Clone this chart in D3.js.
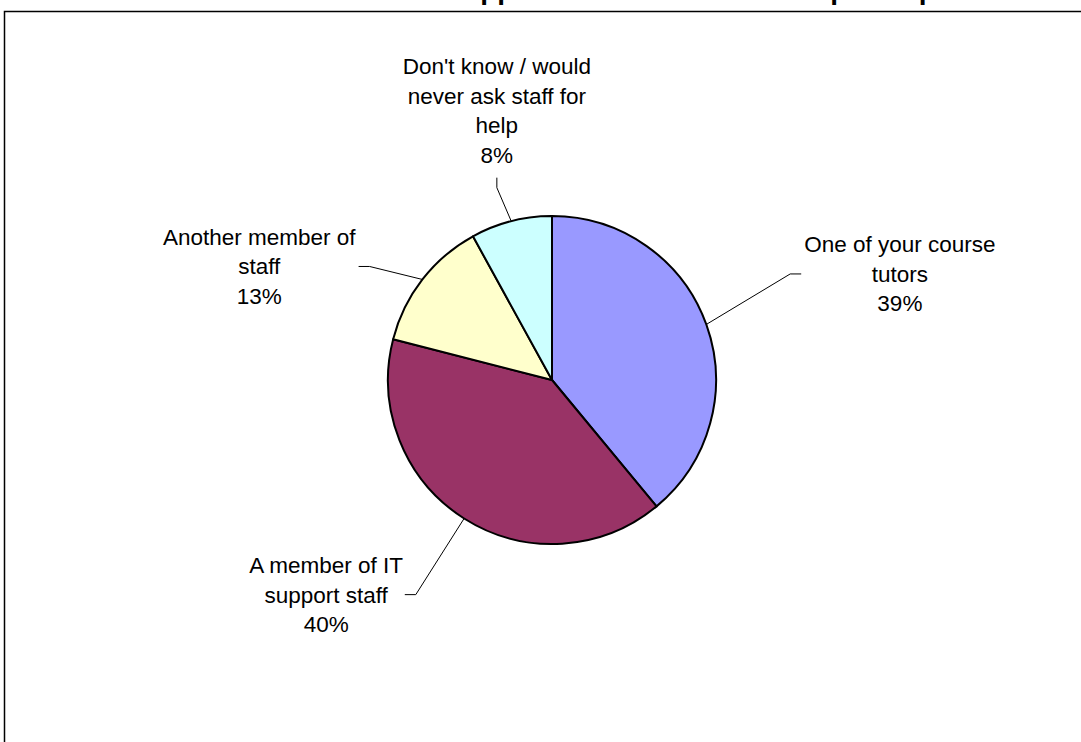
<!DOCTYPE html>
<html>
<head>
<meta charset="utf-8">
<script src="https://cdn.jsdelivr.net/npm/d3@7"></script>
<style>
  html, body { margin: 0; padding: 0; background: #ffffff; }
  svg text { font-family: "Liberation Sans", Arial, sans-serif; fill: #000; }
</style>
</head>
<body>
<div id="chart"></div>
<script>
// survey answers, clockwise from 12 o'clock
var categories = ["One of your course tutors", "A member of IT support staff", "Another member of staff", "Don't know / would never ask staff for help"];
var shares = [39, 40, 13, 8];
var labelLines = [
    ["One of your course", "tutors"],
    ["A member of IT", "support staff"],
    ["Another member of", "staff"],
    ["Don't know / would", "never ask staff for", "help"]
];
var sliceColors = ["#9999FF", "#993366", "#FFFFCC", "#CCFFFF"];
var chartTitle = "Staff member who would be approached first for ICT help with problems";

// where each leader line bends: angle nudge (deg) and distance in radii
var leaderLayout = [
    {shift: -4.2, reach: 1.59},
    {shift: 0, reach: 1.55},
    {shift: -5.9, reach: 1.31},
    {shift: -1.6, reach: 1.22}
];

function drawPie(selector){
    var width = 1081, height = 742;
    var cx = 552, cy = 380, radius = 164;
    var lineHeight = 29.5, fontSize = 22.5;

    var svg = d3.select(selector)
        .append("svg")
        .attr("width", width)
        .attr("height", height);

    svg.append("rect")
        .attr("width", width).attr("height", height)
        .attr("fill", "#ffffff");

    // title sits above the top edge, only descenders show
    svg.append("text")
        .attr("x", 85)
        .attr("y", -1.5)
        .attr("font-size", 28)
        .attr("font-weight", "bold")
        .text(chartTitle);

    // chart area border
    svg.append("rect")
        .attr("x", 4.5).attr("y", 11.5)
        .attr("width", 1200).attr("height", 900)
        .attr("fill", "none")
        .attr("stroke", "#000")
        .attr("stroke-width", 1.5);

    var pie = d3.pie().sort(null).value(function(d){ return d; });
    var arc = d3.arc().innerRadius(0).outerRadius(radius);
    var slices = pie(shares);

    var g = svg.append("g").attr("transform", "translate(" + cx + "," + cy + ")");

    g.selectAll(".slice")
        .data(slices).enter().append("path")
            .attr("class", "slice")
            .attr("d", arc)
            .attr("fill", function(d, i){ return sliceColors[i]; })
            .attr("stroke", "#000")
            .attr("stroke-width", 2)
            .attr("stroke-linejoin", "round");

    function polar(angle, r){
        return [r * Math.sin(angle), -r * Math.cos(angle)];
    }

    slices.forEach(function(d, i){
        var mid = (d.startAngle + d.endAngle) / 2;
        var lay = leaderLayout[i];
        var start = polar(mid, radius);
        var bendAngle = mid + lay.shift * Math.PI / 180;
        var bend = polar(bendAngle, radius * lay.reach);
        var s = Math.sin(bendAngle);
        var vertical = Math.abs(s) < 0.4;
        var end = vertical ? [bend[0], bend[1] - 10] : [bend[0] + (s > 0 ? 11 : -11), bend[1]];

        g.append("polyline")
            .attr("points", [start, bend, end].map(function(p){ return p.join(","); }).join(" "))
            .attr("fill", "none")
            .attr("stroke", "#000")
            .attr("stroke-width", 1);

        var lines = labelLines[i].concat([d.data + "%"]);
        var label = g.append("text")
            .attr("font-size", fontSize)
            .attr("text-anchor", "middle");
        lines.forEach(function(t){
            label.append("tspan").text(t);
        });
        var widest = 0;
        label.selectAll("tspan").each(function(){
            widest = Math.max(widest, this.getComputedTextLength());
        });

        var x, firstY;
        if(vertical){
            x = end[0];
            firstY = end[1] - 15 - (lines.length - 1) * lineHeight;
        }else{
            x = end[0] + (s > 0 ? 1 : -1) * (3 + widest / 2);
            firstY = end[1] - (lines.length - 1) * lineHeight / 2 + 8;
        }
        label.selectAll("tspan")
            .attr("x", x)
            .attr("y", function(t, k){ return firstY + k * lineHeight; });
    });
}

drawPie("#chart");
</script>
</body>
</html>
